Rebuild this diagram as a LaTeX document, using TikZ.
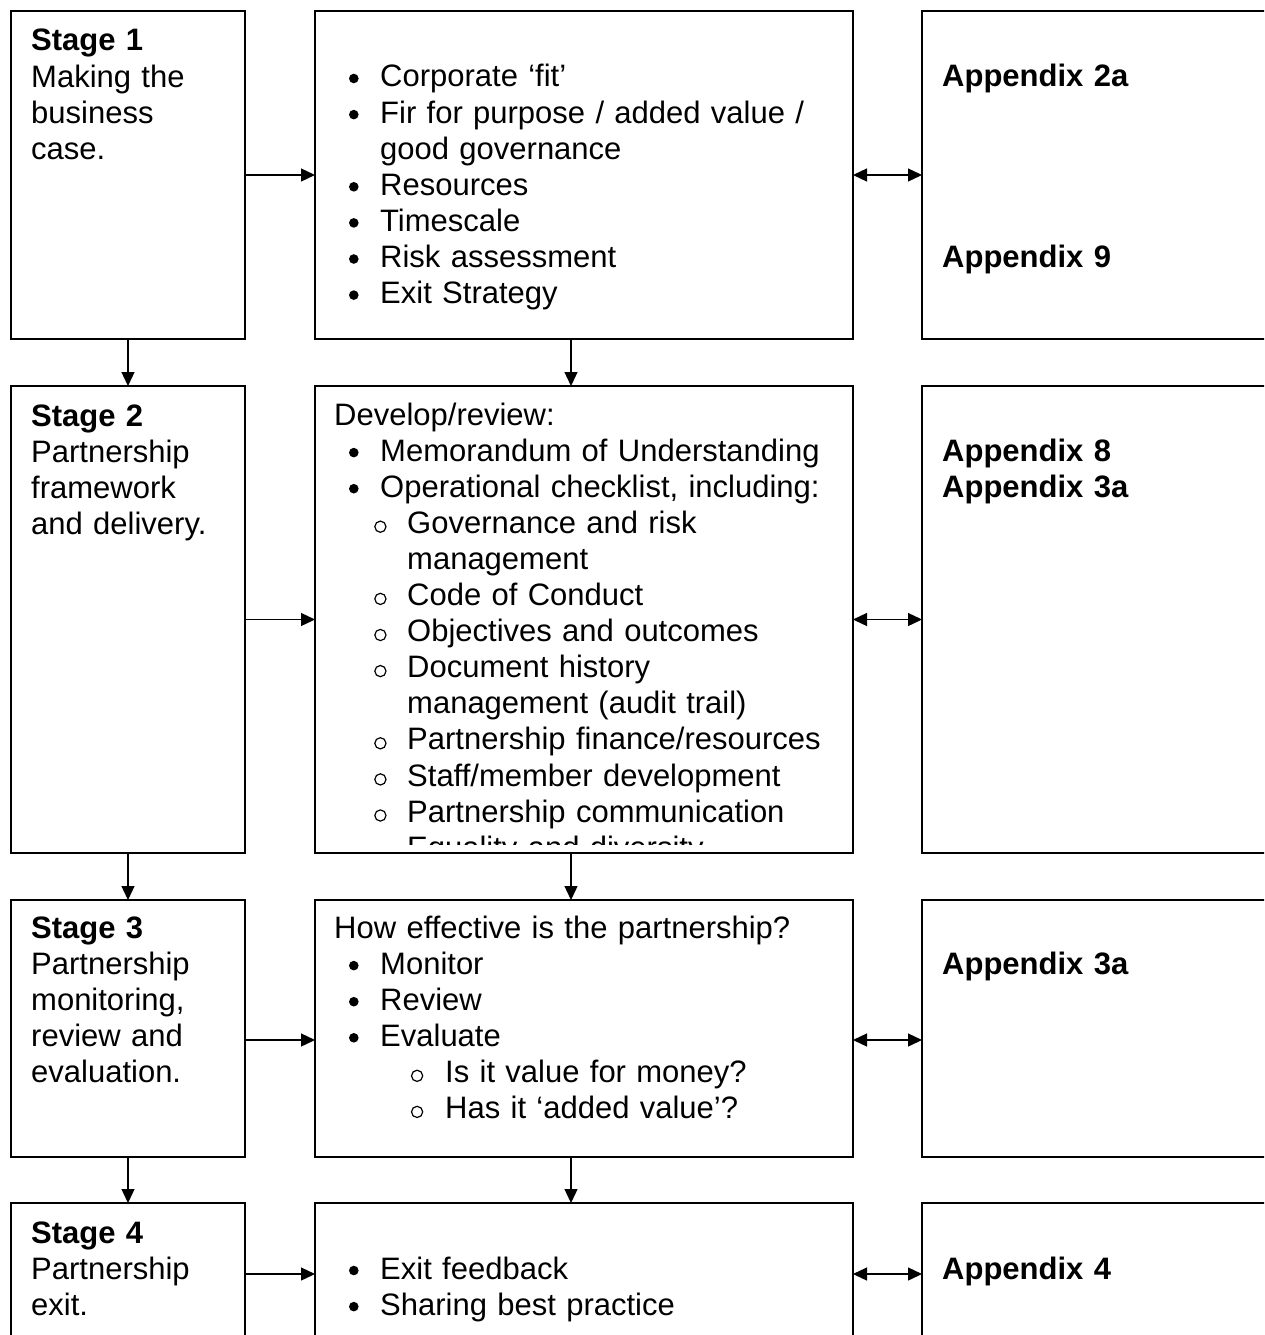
\documentclass[tikz,border=0pt]{standalone}
\usepackage{fontspec}
\setmainfont{Liberation Sans}
\usetikzlibrary{arrows.meta}
% list marks: filled dot for first level, open circle for second level
\newcommand\bdot{\tikz[baseline=0pt]\fill (4.8pt,8.5pt) circle[radius=4.8pt];}
\newcommand\bcirc{\tikz[baseline=0pt]\draw[line width=1.2pt] (6pt,6.6pt) circle[radius=5.6pt];}
% \itm{gap before mark}{start of item text}{mark}
\newcommand\itm[3]{\makebox[#2pt][l]{\hspace*{#1pt}#3}}
\newcommand\lone{\itm{14.8}{46}{\bdot}}
\newcommand\ltwo{\itm{40}{73}{\bcirc}}
\newcommand\lthree{\itm{76.7}{111}{\bcirc}}
\begin{document}
\begin{tikzpicture}[x=1pt,y=-1pt,
  box/.style={draw, line width=1.5pt, inner sep=0pt, outer sep=0pt, anchor=north west},
  txt/.style={anchor=base west, inner sep=0pt, text width=560pt, align=left,
              font=\fontsize{31}{36.1}\selectfont},
  ref/.style={txt, font=\fontsize{31}{36.1}\selectfont\bfseries},
  arr/.style={line width=1.3pt, -{Triangle[length=14pt,width=13pt]}},
  darr/.style={line width=1.3pt, {Triangle[length=14pt,width=13pt]}-{Triangle[length=14pt,width=13pt]}}]
\useasboundingbox (0,0) rectangle (1264,1335);
\clip (0,0) rectangle (1264,1335);
\fill[white] (0,0) rectangle (1264,1335);

% ---- row 1 ----
\node[box, minimum width=234pt, minimum height=328pt] (s1) at (11,11) {};
\node[box, minimum width=538pt, minimum height=328pt] (m1) at (315,11) {};
\node[box, minimum width=400pt, minimum height=328pt] (a1) at (922,11) {};
% ---- row 2 ----
\node[box, minimum width=234pt, minimum height=467pt] (s2) at (11,386) {};
\node[box, minimum width=538pt, minimum height=467pt] (m2) at (315,386) {};
\node[box, minimum width=400pt, minimum height=467pt] (a2) at (922,386) {};
% ---- row 3 ----
\node[box, minimum width=234pt, minimum height=257pt] (s3) at (11,900) {};
\node[box, minimum width=538pt, minimum height=257pt] (m3) at (315,900) {};
\node[box, minimum width=400pt, minimum height=257pt] (a3) at (922,900) {};
% ---- row 4 ----
\node[box, minimum width=234pt, minimum height=142pt] (s4) at (11,1203) {};
\node[box, minimum width=538pt, minimum height=142pt] (m4) at (315,1203) {};
\node[box, minimum width=400pt, minimum height=142pt] (a4) at (922,1203) {};

% ---- stage texts ----
\node[txt] (t1) at (31,51) {\textbf{Stage 1}\\Making the\\business\\case.};
\node[txt] (t2) at (31,426) {\textbf{Stage 2}\\Partnership\\framework\\and delivery.};
\node[txt] (t3) at (31,938) {\textbf{Stage 3}\\Partnership\\monitoring,\\review and\\evaluation.};
\node[txt] (t4) at (31,1243) {\textbf{Stage 4}\\Partnership\\exit.};

% ---- activity texts ----
\node[txt] (c1) at (334,87) {\lone Corporate ‘fit’\\
  \lone Fir for purpose / added value /\\
  \hspace*{46pt}good governance\\
  \lone Resources\\
  \lone Timescale\\
  \lone Risk assessment\\
  \lone Exit Strategy};
% the checklist overflows its frame; the text area stops short of the border
\begin{scope}
  \clip (316,387) rectangle (852,844);
  \node[txt] (c2) at (334,425) {Develop/review:\\
    \lone Memorandum of Understanding\\
    \lone Operational checklist, including:\\
    \ltwo Governance and risk\\
    \hspace*{73pt}management\\
    \ltwo Code of Conduct\\
    \ltwo Objectives and outcomes\\
    \ltwo Document history\\
    \hspace*{73pt}management (audit trail)\\
    \ltwo Partnership finance/resources\\
    \ltwo Staff/member development\\
    \ltwo Partnership communication\\
    \ltwo Equality and diversity};
\end{scope}
\node[txt] (c3) at (334,938) {How effective is the partnership?\\
  \lone Monitor\\
  \lone Review\\
  \lone Evaluate\\
  \lthree Is it value for money?\\
  \lthree Has it ‘added value’?};
\node[txt] (c4) at (334,1279) {\lone Exit feedback\\
  \lone Sharing best practice};

% ---- appendix references ----
\node[ref] (r1a) at (942,87) {Appendix 2a};
\node[ref] (r1b) at (942,267) {Appendix 9};
\node[ref] (r2) at (942,461) {Appendix 8\\Appendix 3a};
\node[ref] (r3) at (942,974) {Appendix 3a};
\node[ref] (r4) at (942,1279) {Appendix 4};

% ---- flow down the stages ----
\draw[arr] (s1.south) -- (s2.north);
\draw[arr] (s2.south) -- (s3.north);
\draw[arr] (s3.south) -- (s4.north);
\draw[arr] ([xshift=-13pt]m1.south) -- ([xshift=-13pt]m2.north);
\draw[arr] ([xshift=-13pt]m2.south) -- ([xshift=-13pt]m3.north);
\draw[arr] ([xshift=-13pt]m3.south) -- ([xshift=-13pt]m4.north);

% ---- stage to activities ----
\draw[arr] (s1.east) -- (m1.west);
\draw[arr] (s2.east) -- (m2.west);
\draw[arr] ([yshift=-11.5pt]s3.east) -- ([yshift=-11.5pt]m3.west);
\draw[arr] (s4.east) -- (m4.west);

% ---- activities to appendices ----
\draw[darr] (m1.east) -- (a1.west);
\draw[darr] (m2.east) -- (a2.west);
\draw[darr] ([yshift=-11.5pt]m3.east) -- ([yshift=-11.5pt]a3.west);
\draw[darr] (m4.east) -- (a4.west);
\end{tikzpicture}
\end{document}
